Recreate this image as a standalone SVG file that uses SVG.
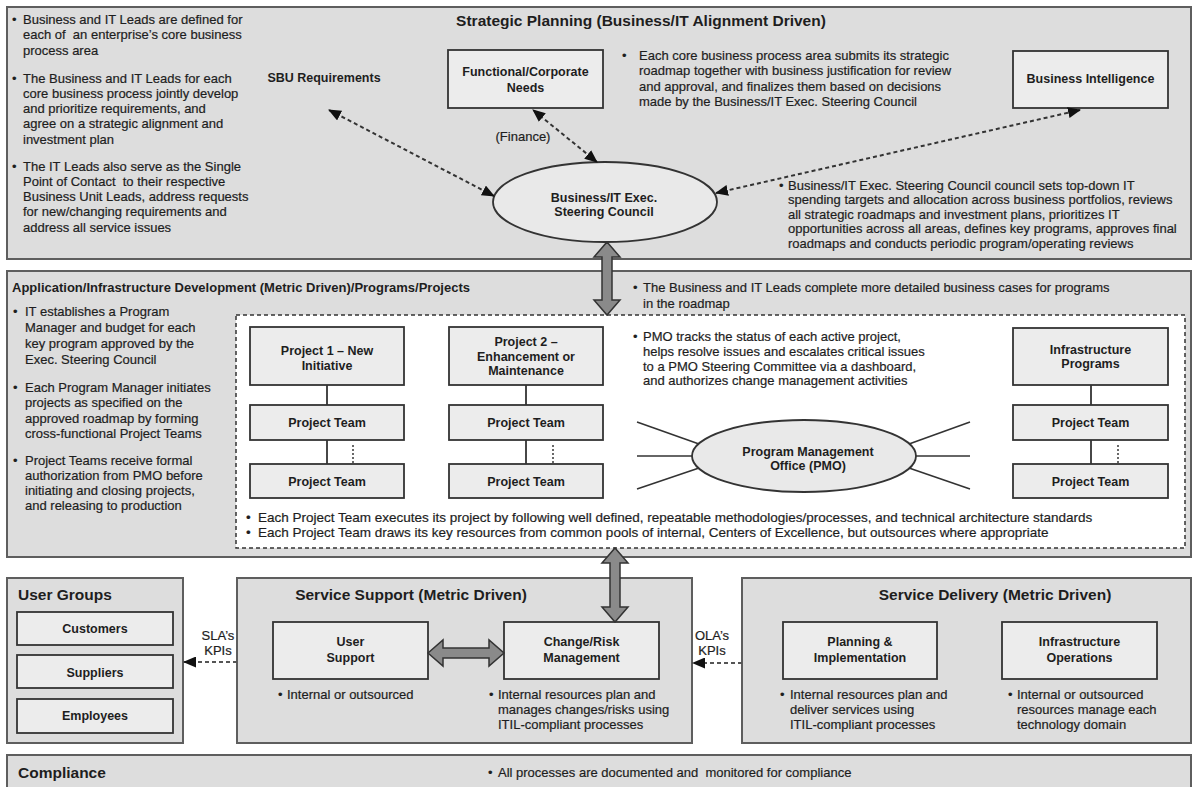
<svg xmlns="http://www.w3.org/2000/svg" width="1193" height="787" viewBox="0 0 1193 787">
  <defs>
    <style>
      .panel { fill:#dddddd; stroke:#5e5e5e; stroke-width:2; }
      .box { fill:#ececec; stroke:#333; stroke-width:1.8; }
      .oval { fill:#e9e9e9; stroke:#333; stroke-width:1.8; }
      .area { fill:#ffffff; stroke:#333; stroke-width:1.5; stroke-dasharray:4 3; }
      text { font-family:"Liberation Sans", Arial, sans-serif; fill:#1e1e1e; }
      .t { font-size:13px; stroke:#1e1e1e; stroke-width:0.2; }
      .tw { font-size:13.5px; }
      .pre { white-space:pre; }
      .lbl { font-size:12.5px; font-weight:bold; text-anchor:middle; }
      .h { font-size:15.5px; font-weight:bold; }
      .h2 { font-size:13px; font-weight:bold; }
      .dotted { fill:none; stroke:#333; stroke-width:2; stroke-dasharray:4 3; }
      .sla { fill:none; stroke:#555; stroke-width:2; stroke-dasharray:4 3; }
      .link { fill:none; stroke:#333; stroke-width:1.8; }
      .tick { fill:none; stroke:#444; stroke-width:1.6; stroke-dasharray:2 2; }
      .spoke { fill:none; stroke:#333; stroke-width:1.6; }
      .garrow { fill:#8a8a8a; stroke:#333; stroke-width:1.5; stroke-linejoin:miter; }
    </style>
    <marker id="ah" viewBox="0 0 13 11" refX="12" refY="5.5" markerWidth="13" markerHeight="11" markerUnits="userSpaceOnUse" orient="auto-start-reverse">
      <path d="M0,0 L13,5.5 L0,11 z" fill="#111"/>
    </marker>
  </defs>

  <rect x="0" y="0" width="1193" height="787" fill="#ffffff"/>

  <!-- Strategic planning band -->
  <g id="strategic-planning">
    <rect class="panel" x="7" y="7" width="1184" height="252"/>
    <text class="h" x="641" y="26" text-anchor="middle">Strategic Planning (Business/IT Alignment Driven)</text>
    <text class="t" x="12" y="23.5"><tspan>•</tspan><tspan x="23">Business and IT Leads are defined for</tspan></text>
    <text class="t pre" x="23" y="39">each of  an enterprise’s core business</text>
    <text class="t" x="23" y="54.5">process area</text>
    <text class="t" x="12" y="82.5"><tspan>•</tspan><tspan x="23">The Business and IT Leads for each</tspan></text>
    <text class="t" x="23" y="97.8">core business process jointly develop</text>
    <text class="t" x="23" y="113.1">and prioritize requirements, and</text>
    <text class="t" x="23" y="128.4">agree on a strategic alignment and</text>
    <text class="t" x="23" y="143.7">investment plan</text>
    <text class="t" x="12" y="170.5"><tspan>•</tspan><tspan x="23">The IT Leads also serve as the Single</tspan></text>
    <text class="t pre" x="23" y="185.8">Point of Contact  to their respective</text>
    <text class="t" x="23" y="201.1">Business Unit Leads, address requests</text>
    <text class="t" x="23" y="216.4">for new/changing requirements and</text>
    <text class="t" x="23" y="231.7">address all service issues</text>

    <text class="t" x="622" y="59.5"><tspan>•</tspan><tspan x="639">Each core business process area submits its strategic</tspan></text>
    <text class="t" x="639" y="75">roadmap together with business justification for review</text>
    <text class="t" x="639" y="90.5">and approval, and finalizes them based on decisions</text>
    <text class="t" x="639" y="106">made by the Business/IT Exec. Steering Council</text>

    <text class="t" x="779" y="189.5"><tspan>•</tspan><tspan x="788">Business/IT Exec. Steering Council council sets top-down IT</tspan></text>
    <text class="t" x="788" y="204">spending targets and allocation across business portfolios, reviews</text>
    <text class="t" x="788" y="218.5">all strategic roadmaps and investment plans, prioritizes IT</text>
    <text class="t" x="788" y="233">opportunities across all areas, defines key programs, approves final</text>
    <text class="t" x="788" y="247.5">roadmaps and conducts periodic program/operating reviews</text>
  </g>

  <g id="sbu-requirements">
    <text class="lbl" x="324" y="81.5">SBU Requirements</text>
  </g>

  <g id="functional-corporate-needs">
    <rect class="box" x="448" y="50" width="155" height="58"/>
    <text class="lbl" x="525.5" y="75.5">Functional/Corporate</text>
    <text class="lbl" x="525.5" y="91.5">Needs</text>
  </g>

  <g id="business-intelligence">
    <rect class="box" x="1013" y="51" width="155" height="57"/>
    <text class="lbl" x="1090.5" y="83">Business Intelligence</text>
  </g>

  <g id="steering-council">
    <ellipse class="oval" cx="605" cy="202" rx="112" ry="40"/>
    <text class="lbl" x="604" y="201.5">Business/IT Exec.</text>
    <text class="lbl" x="604" y="215.5">Steering Council</text>
  </g>

  <!-- Application / infrastructure development band -->
  <g id="development">
    <rect class="panel" x="7" y="271" width="1184" height="286"/>
    <text class="h2" x="12" y="291.5">Application/Infrastructure Development (Metric Driven)/Programs/Projects</text>
    <text class="t" x="633" y="291.5"><tspan>•</tspan><tspan x="643">The Business and IT Leads complete more detailed business cases for programs</tspan></text>
    <text class="t" x="643" y="307.5">in the roadmap</text>

    <text class="t" x="13" y="315.5"><tspan>•</tspan><tspan x="25">IT establishes a Program</tspan></text>
    <text class="t" x="25" y="331.5">Manager and budget for each</text>
    <text class="t" x="25" y="347.5">key program approved by the</text>
    <text class="t" x="25" y="363.5">Exec. Steering Council</text>
    <text class="t" x="13" y="391.5"><tspan>•</tspan><tspan x="25">Each Program Manager initiates</tspan></text>
    <text class="t" x="25" y="407">projects as specified on the</text>
    <text class="t" x="25" y="422.5">approved roadmap by forming</text>
    <text class="t" x="25" y="437.5">cross-functional Project Teams</text>
    <text class="t" x="13" y="464.5"><tspan>•</tspan><tspan x="25">Project Teams receive formal</tspan></text>
    <text class="t" x="25" y="479.5">authorization from PMO before</text>
    <text class="t" x="25" y="494.5">initiating and closing projects,</text>
    <text class="t" x="25" y="509.5">and releasing to production</text>

    <rect class="area" x="236" y="315" width="949" height="233"/>

    <text class="t" x="633" y="340.5"><tspan>•</tspan><tspan x="643">PMO tracks the status of each active project,</tspan></text>
    <text class="t" x="643" y="355.5">helps resolve issues and escalates critical issues</text>
    <text class="t" x="643" y="370.5">to a PMO Steering Committee via a dashboard,</text>
    <text class="t" x="643" y="385">and authorizes change management activities</text>

    <text class="t tw" x="246" y="521.5"><tspan>•</tspan><tspan x="258">Each Project Team executes its project by following well defined, repeatable methodologies/processes, and technical architecture standards</tspan></text>
    <text class="t tw" x="246" y="536.5"><tspan>•</tspan><tspan x="258">Each Project Team draws its key resources from common pools of internal, Centers of Excellence, but outsources where appropriate</tspan></text>
  </g>

  <g id="project-1">
    <rect class="box" x="250" y="327" width="154" height="58"/>
    <text class="lbl" x="327" y="354.5">Project 1 – New</text>
    <text class="lbl" x="327" y="369.5">Initiative</text>
  </g>
  <g id="project-1-team-a">
    <rect class="box" x="250" y="405" width="154" height="35"/>
    <text class="lbl" x="327" y="426.5">Project Team</text>
  </g>
  <g id="project-1-team-b">
    <rect class="box" x="250" y="464" width="154" height="34"/>
    <text class="lbl" x="327" y="485.5">Project Team</text>
  </g>

  <g id="project-2">
    <rect class="box" x="449" y="327" width="154" height="58"/>
    <text class="lbl" x="526" y="345.5">Project 2 –</text>
    <text class="lbl" x="526" y="360.5">Enhancement or</text>
    <text class="lbl" x="526" y="375">Maintenance</text>
  </g>
  <g id="project-2-team-a">
    <rect class="box" x="449" y="405" width="154" height="35"/>
    <text class="lbl" x="526" y="426.5">Project Team</text>
  </g>
  <g id="project-2-team-b">
    <rect class="box" x="449" y="464" width="154" height="34"/>
    <text class="lbl" x="526" y="485.5">Project Team</text>
  </g>

  <g id="infrastructure-programs">
    <rect class="box" x="1013" y="328" width="155" height="57"/>
    <text class="lbl" x="1090.5" y="353.5">Infrastructure</text>
    <text class="lbl" x="1090.5" y="368">Programs</text>
  </g>
  <g id="infrastructure-team-a">
    <rect class="box" x="1013" y="405" width="155" height="35"/>
    <text class="lbl" x="1090.5" y="426.5">Project Team</text>
  </g>
  <g id="infrastructure-team-b">
    <rect class="box" x="1013" y="464" width="155" height="34"/>
    <text class="lbl" x="1090.5" y="485.5">Project Team</text>
  </g>

  <g id="pmo">
    <ellipse class="oval" cx="804" cy="456" rx="112" ry="36"/>
    <text class="lbl" x="808" y="455.5">Program Management</text>
    <text class="lbl" x="808" y="470">Office (PMO)</text>
  </g>

  <!-- Bottom row -->
  <g id="user-groups">
    <rect class="panel" x="7" y="578" width="176" height="165"/>
    <text class="h" x="18" y="599.5">User Groups</text>
  </g>
  <g id="customers">
    <rect class="box" x="17" y="612" width="156" height="33"/>
    <text class="lbl" x="95" y="633">Customers</text>
  </g>
  <g id="suppliers">
    <rect class="box" x="17" y="655" width="156" height="33"/>
    <text class="lbl" x="95" y="676.5">Suppliers</text>
  </g>
  <g id="employees">
    <rect class="box" x="17" y="699" width="156" height="34"/>
    <text class="lbl" x="95" y="720">Employees</text>
  </g>

  <g id="service-support">
    <rect class="panel" x="237" y="578" width="455" height="165"/>
    <text class="h" x="411" y="599.5" text-anchor="middle">Service Support (Metric Driven)</text>
    <text class="t" x="278" y="698.5"><tspan>•</tspan><tspan x="287">Internal or outsourced</tspan></text>
    <text class="t" x="489" y="698.5"><tspan>•</tspan><tspan x="498">Internal resources plan and</tspan></text>
    <text class="t" x="498" y="713.5">manages changes/risks using</text>
    <text class="t" x="498" y="728.5">ITIL-compliant processes</text>
  </g>
  <g id="user-support">
    <rect class="box" x="273" y="622" width="155" height="57"/>
    <text class="lbl" x="350.5" y="645.5">User</text>
    <text class="lbl" x="350.5" y="661.5">Support</text>
  </g>
  <g id="change-risk-management">
    <rect class="box" x="504" y="622" width="155" height="57"/>
    <text class="lbl" x="581.5" y="645.5">Change/Risk</text>
    <text class="lbl" x="581.5" y="661.5">Management</text>
  </g>

  <g id="service-delivery">
    <rect class="panel" x="742" y="578" width="449" height="165"/>
    <text class="h" x="995" y="599.5" text-anchor="middle">Service Delivery (Metric Driven)</text>
    <text class="t" x="780" y="698.5"><tspan>•</tspan><tspan x="790">Internal resources plan and</tspan></text>
    <text class="t" x="790" y="713.5">deliver services using</text>
    <text class="t" x="790" y="728.5">ITIL-compliant processes</text>
    <text class="t" x="1008" y="698.5"><tspan>•</tspan><tspan x="1017">Internal or outsourced</tspan></text>
    <text class="t" x="1017" y="713.5">resources manage each</text>
    <text class="t" x="1017" y="728.5">technology domain</text>
  </g>
  <g id="planning-implementation">
    <rect class="box" x="783" y="622" width="154" height="57"/>
    <text class="lbl" x="860" y="645.5">Planning &amp;</text>
    <text class="lbl" x="860" y="661.5">Implementation</text>
  </g>
  <g id="infrastructure-operations">
    <rect class="box" x="1002" y="622" width="155" height="57"/>
    <text class="lbl" x="1079.5" y="645.5">Infrastructure</text>
    <text class="lbl" x="1079.5" y="661.5">Operations</text>
  </g>

  <g id="compliance">
    <rect class="panel" x="7" y="755" width="1184" height="40"/>
    <text class="h" x="18" y="777.5">Compliance</text>
    <text class="t pre" x="488" y="776.5"><tspan>•</tspan><tspan x="498">All processes are documented and  monitored for compliance</tspan></text>
  </g>

  <!-- Connectors -->
  <g id="connectors">
    <!-- strategic inputs to the steering council -->
    <line class="dotted" x1="494" y1="196" x2="329" y2="110" marker-start="url(#ah)" marker-end="url(#ah)"/>
    <line class="dotted" x1="597" y1="162" x2="533" y2="110" marker-start="url(#ah)" marker-end="url(#ah)"/>
    <line class="dotted" x1="716" y1="193" x2="1080" y2="110" marker-start="url(#ah)" marker-end="url(#ah)"/>
    <text class="t" x="523" y="140.5" text-anchor="middle">(Finance)</text>

    <!-- project hierarchy links -->
    <line class="link" x1="327" y1="385" x2="327" y2="405"/>
    <line class="link" x1="327" y1="440" x2="327" y2="464"/>
    <line class="tick" x1="353" y1="445" x2="353" y2="463"/>
    <line class="link" x1="526" y1="385" x2="526" y2="405"/>
    <line class="link" x1="526" y1="440" x2="526" y2="464"/>
    <line class="tick" x1="553" y1="445" x2="553" y2="463"/>
    <line class="link" x1="1091" y1="385" x2="1091" y2="405"/>
    <line class="link" x1="1091" y1="440" x2="1091" y2="464"/>
    <line class="tick" x1="1118" y1="445" x2="1118" y2="463"/>

    <!-- PMO spokes -->
    <line class="spoke" x1="637" y1="422" x2="699" y2="444"/>
    <line class="spoke" x1="637" y1="456" x2="692" y2="456"/>
    <line class="spoke" x1="637" y1="489" x2="699" y2="468"/>
    <line class="spoke" x1="909" y1="444" x2="970" y2="422"/>
    <line class="spoke" x1="916" y1="456" x2="970" y2="456"/>
    <line class="spoke" x1="909" y1="468" x2="970" y2="489"/>

    <!-- block arrows -->
    <polygon class="garrow" points="607,242 620,257 612,257 612,300 620,300 607,315 594,300 602,300 602,257 594,257"/>
    <polygon class="garrow" points="615,548 628,563 620,563 620,607 628,607 615,622 602,607 610,607 610,563 602,563"/>
    <polygon class="garrow" points="428,653 443,640 443,648 489,648 489,640 504,653 489,666 489,658 443,658 443,666"/>

    <!-- service level agreements -->
    <line class="sla" x1="237" y1="662" x2="184" y2="662" marker-end="url(#ah)"/>
    <text class="t" x="218" y="639.5" text-anchor="middle">SLA’s</text>
    <text class="t" x="218" y="654.5" text-anchor="middle">KPIs</text>
    <line class="sla" x1="742" y1="663" x2="693" y2="663" marker-end="url(#ah)"/>
    <text class="t" x="712" y="639.5" text-anchor="middle">OLA’s</text>
    <text class="t" x="712" y="654.5" text-anchor="middle">KPIs</text>
  </g>
</svg>
